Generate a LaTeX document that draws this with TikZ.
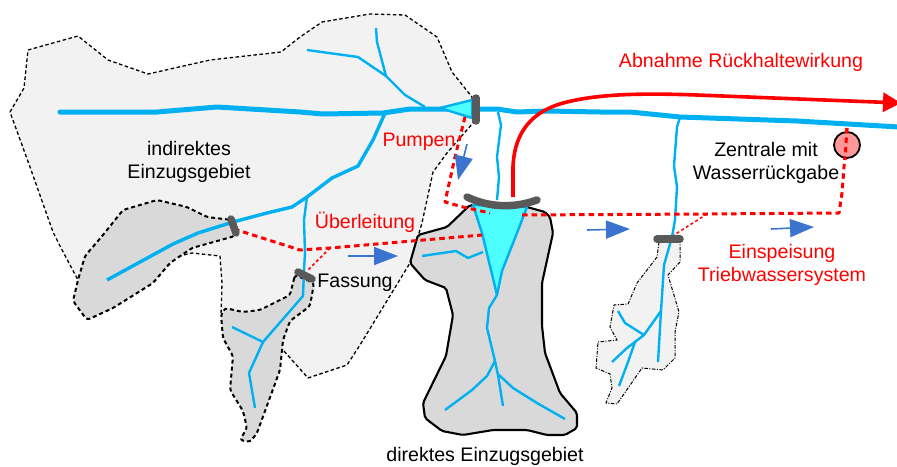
\documentclass[tikz,border=0pt]{standalone}
\usepackage{fontspec}
\setmainfont{Liberation Sans}
\usetikzlibrary{arrows.meta,positioning,backgrounds}
\definecolor{stream}{HTML}{00B0F0}
\definecolor{lake}{HTML}{4DFFFF}
\definecolor{wehr}{HTML}{595959}
\definecolor{pfeil}{HTML}{3A74CF}
\definecolor{area}{HTML}{F2F2F2}
\definecolor{areasub}{HTML}{D9D9D9}
\tikzset{
  catchouter/.style={draw=black, fill=area, line width=1.3pt, dash pattern=on 3.5pt off 2.5pt, line join=round},
  catchsub/.style={draw=black, fill=areasub, line width=2pt, dash pattern=on 4pt off 3pt, rounded corners=3pt},
  catchdirect/.style={draw=black, fill=areasub, line width=2.1pt, rounded corners=2pt},
  catchsmall/.style={draw=black, fill=area, line width=1pt, dash pattern=on 3.5pt off 1.5pt on 1pt off 1.5pt},
  river/.style={draw=stream, line width=5pt, line cap=round, line join=round},
  creek/.style={draw=stream, line width=2.4pt, line join=round},
  creekmid/.style={draw=stream, line width=3.4pt, line join=round},
  lakefill/.style={draw=stream, fill=lake, line width=2.4pt, line join=round},
  wehrbar/.style={draw=wehr, line width=7.5pt, line cap=round},
  redpipe/.style={draw=red, line width=3pt, dash pattern=on 5.5pt off 4pt, line join=round},
  redthin/.style={draw=red, line width=1.5pt, dash pattern=on 3pt off 2.5pt},
  bluearrow/.style={draw=pfeil, line width=1.6pt, -{Triangle[length=24pt,width=18pt]}},
  label/.style={font=\fontsize{19.6}{23.5}\selectfont, align=center, inner sep=0pt},
  redlabel/.style={label, text=red}
}
\begin{document}
\begin{tikzpicture}[x=1pt, y=-1pt]
  \useasboundingbox (0,0) rectangle (897,466);
  \draw[catchouter] (10,112) -- (24,88) -- (28,50) -- (78,36) -- (108,60) -- (148,74) -- (210,60) -- (281,52)
    -- (300,37) -- (322,22) -- (370,14) -- (405,15) -- (437,37) -- (452,72) -- (472,97) -- (473,123)
    -- (447,153) -- (433,172) -- (422,223) -- (410,263) -- (360,345) -- (347,365) -- (308,378) -- (283,350)
    -- (221,315) -- (222,283) -- (220,256) -- (192,253) -- (78,280) -- (60,246) -- (53,232) -- (30,167) -- cycle;
  \draw[catchsub] (232,220) -- (207,217) -- (187,207) -- (157,200) -- (123,210) -- (103,235) -- (85,256)
    -- (78,280) -- (73,301) -- (87,320) -- (113,308) -- (153,283) -- (170,263) -- (192,248) -- (210,243) -- (235,236) -- cycle;
  \draw[catchsub] (295,275) -- (290,295) -- (260,310) -- (243,312) -- (225,308) -- (221,315) -- (223,338)
    -- (233,356) -- (230,390) -- (243,411) -- (247,428) -- (240,440) -- (250,442) -- (257,433) -- (280,370)
    -- (283,340) -- (290,321) -- (310,306) -- (314,283) -- cycle;
  \draw[catchdirect] (410,263) -- (425,280) -- (446,288) -- (453,315) -- (446,356) -- (423,403) -- (425,418)
    -- (442,431) -- (463,435) -- (493,430) -- (527,430) -- (547,435) -- (565,435) -- (577,428) -- (577,413)
    -- (560,393) -- (545,353) -- (542,326) -- (542,283) -- (553,233) -- (550,217) -- (545,212) -- (527,207)
    -- (470,205) -- (447,227) -- (418,235) -- cycle;
  \draw[catchsmall] (659,242) -- (657,257) -- (637,283) -- (628,304) -- (614,305) -- (610,327) -- (617,340)
    -- (598,342) -- (596,368) -- (610,374) -- (612,388) -- (606,403) -- (617,404) -- (642,368) -- (663,370)
    -- (675,358) -- (675,332) -- (679,312) -- (668,275) -- (680,262) -- (680,242) -- cycle;

  \draw[creek] (376,28) -- (377,42) -- (386,76) -- (405,95) -- (425,107);
  \draw[creek] (307,50) -- (358,57) -- (386,76);
  \draw[creekmid] (385,113) -- (373,140) -- (358,166) -- (332,178) -- (307,197) -- (292,207) -- (267,213)
    -- (233,222) -- (198,233) -- (173,244) -- (107,280);
  \draw[creek] (307,197) -- (304,220) -- (305,253) -- (304,270) -- (303,296) -- (263,342) -- (249,373) -- (255,408);
  \draw[creek] (232,327) -- (263,342);
  \draw[creek] (498,112) -- (501,125) -- (497,157) -- (499,177) -- (497,200);
  \draw[creek] (680,117) -- (677,127) -- (674,166) -- (677,187) -- (675,220) -- (672,237) -- (664,265) -- (661,311) -- (658,362);
  \draw[creek] (661,311) -- (644,335) -- (625,323) -- (618,311);
  \draw[creek] (644,335) -- (627,348) -- (612,362);
  \draw[creek] (635,342) -- (628,362) -- (619,386);
  \draw[creek] (422,256) -- (456,251) -- (468,258) -- (483,252);
  \draw[creek] (497,295) -- (489,308) -- (487,328) -- (495,361) -- (498,375) -- (503,406);
  \draw[creek] (495,361) -- (487,376) -- (472,390) -- (445,410);
  \draw[creek] (499,375) -- (513,388) -- (537,403) -- (565,419);
  \draw[river] (60,112) -- (157,112) -- (217,107) -- (300,112) -- (323,114) -- (383,113) -- (410,109) -- (473,109)
    -- (497,109) -- (517,112) -- (547,111) -- (600,112) -- (630,112) -- (680,117) -- (797,121) -- (899,127);
  \draw[lakefill] (440,108) -- (472,100) -- (472,118) -- cycle;
  \draw[lakefill] (473,205) -- (527,207) -- (517,233) -- (502,271) -- (497,295) -- (482,233) -- cycle;

  \coordinate (knickA) at (300,250);
  \coordinate (knickB) at (330,248);
  \coordinate (knickC) at (707,214);
  \draw[redpipe] (234,229) -- (knickA) -- (knickB) -- (482,235);
  \draw[redpipe] (465,117) -- (455,157) -- (445,202) -- (463,207) -- (490,213);
  \draw[redpipe] (522,215) -- (knickC) -- (839,213) -- (842,193) -- (847,128);
  \draw[redthin] (knickB) -- (307,271);
  \draw[redthin] (knickC) -- (674,235);

  \draw[wehrbar] (476,98) -- (476,121);
  \draw[wehrbar] (467,197) .. controls (490,208) and (515,208) .. (537,200);
  \draw[wehrbar] (231,219) -- (236,233);
  \draw[wehrbar] (298,272) -- (312,279);
  \draw[wehrbar] (657,239) -- (680,239);

  \node[draw=black, fill=red!40, line width=1.8pt, circle, minimum size=26pt, inner sep=0pt] (zentrale) at (847,145) {};
  \draw[redpipe] (847,128) -- (845,160);

  \coordinate (stauS) at (513,197);
  \coordinate (redE) at (901,103);
  \draw[draw=red, line width=3.6pt, -{Triangle[length=18pt,width=19pt]}] (stauS) -- (513,167)
    .. controls (514,140) and (525,112) .. (567,102) .. controls (600,94) and (640,93) .. (697,95) -- (redE);

  \foreach \name/\xa/\ya/\xb/\yb in {pumpA/467/144/458/180,ableitA/348/256/398/256,ableitB/587/230/630/229,ableitC/771/229/814/227} {
    \coordinate (\name s) at (\xa,\ya);
    \coordinate (\name e) at (\xb,\yb);
    \draw[bluearrow] (\name s) -- (\name e);
  }

  \node[redlabel] (abnahme) at (741,62) {Abnahme Rückhaltewirkung};
  \node[redlabel] (pumpen) at (419,142) {Pumpen};
  \node[redlabel] (ueberleitung) at (365,222) {Überleitung};
  \node[redlabel] (einspeisung) at (782,265) {Einspeisung\\Triebwassersystem};
  \node[label] (indirekt) at (189,162) {indirektes\\Einzugsgebiet};
  \node[label] (fassung) at (355,283) {Fassung};
  \node[label] (rueckgabe) at (766,163) {Zentrale mit\\Wasserrückgabe};
  \node[label] (direkt) at (485,456) {direktes Einzugsgebiet};
\end{tikzpicture}
\end{document}
